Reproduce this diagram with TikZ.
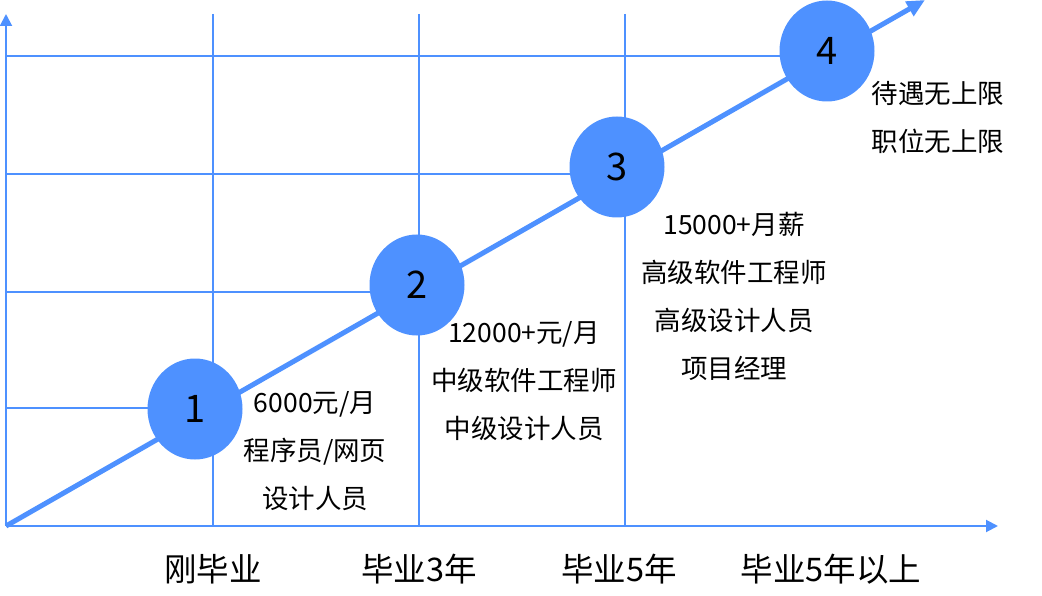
\documentclass[tikz,border=0pt]{standalone}
\usepackage{fontspec}
\setmainfont{Noto Sans CJK SC}
\usetikzlibrary{arrows.meta, shapes.geometric}
\definecolor{stepblue}{RGB}{78,145,255}

\begin{document}
\begin{tikzpicture}[x=1pt,y=-1pt,
  grid/.style={stepblue,line width=2pt},
  level/.style={ellipse,fill=stepblue,minimum width=95pt,minimum height=101pt,inner sep=0pt,font=\fontsize{38}{40}\selectfont},
  info/.style={align=center,font=\fontsize{26.5}{48}\selectfont},
  stage/.style={font=\fontsize{32.5}{34}\selectfont}]
\useasboundingbox (0,0) rectangle (1042,596);
% grid
\foreach \x in {213,419,625} \draw[grid] (\x,14) -- (\x,526);
\foreach \y/\x in {56/826,174/617,292/417,408/195} \draw[grid] (6,\y) -- (\x,\y);
% axes
\coordinate (o) at (6,526);
\coordinate (ytop) at (6,14);
\coordinate (xend) at (998,526);
\coordinate (tip) at (925,0);
\draw[grid,-{Triangle[length=12pt,width=12pt]}] (o) -- (ytop);
\draw[grid,-{Triangle[length=12pt,width=12pt]}] (o) -- (xend);
\draw[stepblue,line width=5pt,-{Triangle[length=18pt,width=16pt]}] (o) -- (tip);
% levels
\node[level] (c1) at (195,409) {1};
\node[level] (c2) at (417,285) {2};
\node[level] (c3) at (617,167) {3};
\node[level] (c4) at (827,51) {4};
\node[info] (t1) at (315,451) {6000元/月\\程序员/网页\\设计人员};
\node[info] (t2) at (524,381) {12000+元/月\\中级软件工程师\\中级设计人员};
\node[info] (t3) at (734,296) {15000+月薪\\高级软件工程师\\高级设计人员\\项目经理};
\node[info] (t4) at (938,117) {待遇无上限\\职位无上限};
% stages
\node[stage] (s1) at (213,569) {刚毕业};
\node[stage] (s2) at (419,569) {毕业3年};
\node[stage] (s3) at (619,569) {毕业5年};
\node[stage] (s4) at (831,569) {毕业5年以上};
\end{tikzpicture}
\end{document}
